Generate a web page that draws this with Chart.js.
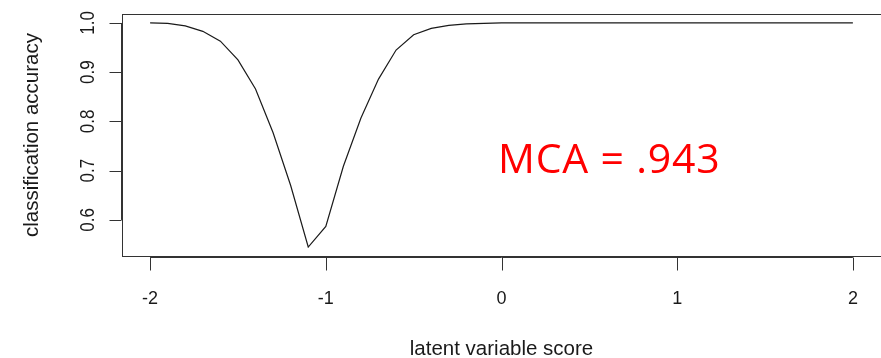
<!DOCTYPE html>
<html>
<head>
<meta charset="utf-8">
<script src="https://cdn.jsdelivr.net/npm/chart.js@4/dist/chart.umd.min.js"></script>
<style>
  html, body { margin: 0; padding: 0; background: #fff; }
  #wrap { width: 881px; height: 358px; }
  canvas { display: block; }
</style>
</head>
<body>
<div id="wrap"><canvas id="c" width="881" height="358"></canvas></div>
<script>
// Latent variable scores at which accuracy was evaluated
const scores = [
  -2.0, -1.9, -1.8, -1.7, -1.6, -1.5, -1.4, -1.3, -1.2, -1.1,
  -1.0, -0.9, -0.8, -0.7, -0.6, -0.5, -0.4, -0.3, -0.2, -0.1,
   0.0,  0.1,  0.2,  0.3,  0.4,  0.5,  0.6,  0.7,  0.8,  0.9,
   1.0,  1.1,  1.2,  1.3,  1.4,  1.5,  1.6,  1.7,  1.8,  1.9,  2.0
];
// Classification accuracy at each score
const accuracy = [
  1.000, 0.999, 0.994, 0.983, 0.963, 0.925, 0.866, 0.777, 0.670, 0.545,
  0.587, 0.709, 0.807, 0.886, 0.945, 0.976, 0.989, 0.995, 0.998, 0.999,
  1.000, 1.000, 1.000, 1.000, 1.000, 1.000, 1.000, 1.000, 1.000, 1.000,
  1.000, 1.000, 1.000, 1.000, 1.000, 1.000, 1.000, 1.000, 1.000, 1.000, 1.000
];
const xTicks = [-2, -1, 0, 1, 2];
const yTicks = [0.6, 0.7, 0.8, 0.9, 1.0];
const xTickLabels = ['-2', '-1', '0', '1', '2'];
const yTickLabels = ['0.6', '0.7', '0.8', '0.9', '1.0'];
const xTitle = 'latent variable score';
const yTitle = 'classification accuracy';
const mcaText = 'MCA = .943';
const mcaAt = { x: -0.02, y: 0.6947 };

// Axis limits padded by 4% of the data range on each side
function padded(vals) {
  const lo = Math.min(...vals), hi = Math.max(...vals), d = (hi - lo) * 0.04;
  return [lo - d, hi + d];
}
const [xMin, xMax] = padded(scores);
const [yMin, yMax] = padded(accuracy);

const AXIS_FONT = '"Liberation Sans", Arial, Helvetica, sans-serif';

const frameAndAxes = {
  id: 'frameAndAxes',
  afterDraw(chart) {
    const { ctx, chartArea: a, scales: { x, y } } = chart;
    ctx.save();
    ctx.strokeStyle = '#333';
    ctx.lineWidth = 1;

    // plot frame
    ctx.strokeRect(Math.round(a.left) + 0.5, Math.round(a.top) + 0.5,
                   Math.round(a.right - a.left) + 1, Math.round(a.bottom - a.top));

    // x axis: line spanning the ticks, tick marks pointing down
    const xl = x.getPixelForValue(xTicks[0]);
    const xr = x.getPixelForValue(xTicks[xTicks.length - 1]);
    const ax = Math.round(a.bottom) + 1.5;
    ctx.beginPath();
    ctx.moveTo(xl, ax); ctx.lineTo(xr, ax);
    xTicks.forEach(v => {
      const px = Math.round(x.getPixelForValue(v)) + 0.5;
      ctx.moveTo(px, ax); ctx.lineTo(px, ax + 13);
    });
    ctx.stroke();

    // y axis: line spanning the ticks, tick marks pointing left
    const yt = y.getPixelForValue(yTicks[yTicks.length - 1]);
    const yb = y.getPixelForValue(yTicks[0]);
    const ay = Math.round(a.left) - 0.5;
    ctx.beginPath();
    ctx.moveTo(ay, yt); ctx.lineTo(ay, yb);
    yTicks.forEach(v => {
      const py = Math.round(y.getPixelForValue(v)) + 0.5;
      ctx.moveTo(ay, py); ctx.lineTo(ay - 12, py);
    });
    ctx.stroke();

    ctx.fillStyle = '#1a1a1a';
    // x tick labels
    ctx.font = '18px ' + AXIS_FONT;
    ctx.textAlign = 'center';
    ctx.textBaseline = 'alphabetic';
    xTicks.forEach((v, i) => {
      ctx.fillText(xTickLabels[i], x.getPixelForValue(v), 303.5);
    });

    // y tick labels, reading upward, glyphs a little taller than wide
    ctx.font = '17px ' + AXIS_FONT;
    yTicks.forEach((v, i) => {
      ctx.save();
      ctx.translate(94, y.getPixelForValue(v));
      ctx.rotate(-Math.PI / 2);
      ctx.scale(1, 1.22);
      ctx.fillText(yTickLabels[i], 0, 0);
      ctx.restore();
    });

    // axis titles
    ctx.font = '20.5px ' + AXIS_FONT;
    ctx.fillText(xTitle, (xl + xr) / 2, 355);
    ctx.save();
    ctx.translate(38, (a.top + a.bottom) / 2);
    ctx.rotate(-Math.PI / 2);
    ctx.fillText(yTitle, 0, 0);
    ctx.restore();

    // MCA annotation
    ctx.fillStyle = '#ff0000';
    ctx.font = '41px "Open Sans", "Noto Sans", sans-serif';
    ctx.letterSpacing = '0.8px';
    ctx.textAlign = 'left';
    ctx.fillText(mcaText, x.getPixelForValue(mcaAt.x), y.getPixelForValue(mcaAt.y));
    ctx.restore();
  }
};

new Chart(document.getElementById('c'), {
  type: 'line',
  data: {
    datasets: [{
      data: scores.map((s, i) => ({ x: s, y: accuracy[i] })),
      borderColor: '#1a1a1a',
      borderWidth: 1.2,
      pointRadius: 0,
      tension: 0,
      fill: false
    }]
  },
  options: {
    responsive: false,
    animation: false,
    layout: { padding: { left: 122, top: 14, right: 0, bottom: 102 } },
    plugins: { legend: { display: false }, tooltip: { enabled: false } },
    scales: {
      x: { type: 'linear', display: false, min: xMin, max: xMax },
      y: { type: 'linear', display: false, min: yMin, max: yMax }
    }
  },
  plugins: [frameAndAxes]
});
</script>
</body>
</html>
